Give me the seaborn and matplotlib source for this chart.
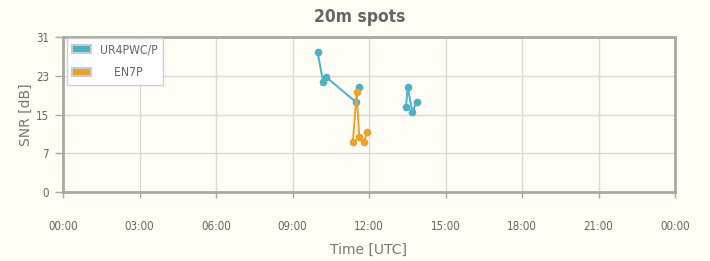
import numpy as np
import pandas as pd
import matplotlib
matplotlib.use("Agg")
import matplotlib.pyplot as plt
import seaborn as sns
from matplotlib.patches import Patch
from matplotlib import font_manager

# ---- data ----
calls = ["UR4PWC/P", "EN7P"]
ur_times = ["09:59", "10:12", "10:19", "11:29", "11:37", "13:27", "13:31", "13:42", "13:52"]
ur_snr = [28, 22, 23, 18, 21, 17, 21, 16, 18]
ur_seg = [0, 0, 0, 0, 0, 1, 1, 1, 1]
en_times = ["11:22", "11:31", "11:37", "11:48", "11:56"]
en_snr = [10, 20, 11, 10, 12]
en_seg = [2, 2, 2, 2, 2]
x_tick_labels = ["00:00", "03:00", "06:00", "09:00", "12:00", "15:00", "18:00", "21:00", "00:00"]
y_tick_labels = ["0", "7", "15", "23", "31"]
colors = {"UR4PWC/P": "#4bb2c5", "EN7P": "#EAA228"}


def to_hours(t):
    h, m = t.split(":")
    return int(h) + int(m) / 60.0


df = pd.DataFrame({
    "hour": [to_hours(t) for t in ur_times + en_times],
    "snr": ur_snr + en_snr,
    "call": [calls[0]] * len(ur_times) + [calls[1]] * len(en_times),
    "seg": ur_seg + en_seg,
})

sns.set_theme(style="white")
avail = {f.name for f in font_manager.fontManager.ttflist}
narrow = "Liberation Sans Narrow" if "Liberation Sans Narrow" in avail else "DejaVu Sans"
plt.rcParams["font.family"] = [narrow, "DejaVu Sans"]
plt.rcParams["font.stretch"] = "condensed"

bg = "#fffdf4"
fig = plt.figure(figsize=(7.10, 2.61), dpi=100, facecolor=bg)
ax = fig.add_axes([63 / 710, 1 - 192 / 261, (675 - 63) / 710, (192 - 37) / 261])
ax.set_facecolor("#fffdf6")

sns.lineplot(data=df, x="hour", y="snr", hue="call", units="seg", estimator=None,
             sort=False, marker="o", markersize=5.5, markeredgewidth=0, linewidth=1.4,
             palette=colors, legend=False, ax=ax)

ax.set_xlim(0, 24)
ax.set_ylim(0, 31)
ax.set_xticks(np.arange(0, 25, 3))
ax.set_xticklabels(x_tick_labels)
ax.set_yticks(np.linspace(0, 31, 5))
ax.set_yticklabels(y_tick_labels)
ax.grid(True, color="#d8d8d4", linewidth=1)
ax.set_axisbelow(True)
for s in ax.spines.values():
    s.set_color("#a8a8a4")
    s.set_linewidth(2)

ax.tick_params(axis="x", which="both", bottom=True, length=4, width=1, color="#a8a8a4",
               pad=16, labelsize=8.3, labelcolor="#666666")
ax.tick_params(axis="y", which="both", left=True, length=6, width=1, color="#a8a8a4",
               pad=4, labelsize=8.3, labelcolor="#666666")

ax.set_xlabel("Time [UTC]", fontsize=10, color="#777777", labelpad=7,
              family=["DejaVu Sans"], stretch="normal")
ax.set_ylabel("SNR [dB]", fontsize=10, color="#777777", labelpad=2,
              family=["DejaVu Sans"], stretch="normal")

fig.text(0.506, 1 - 17 / 261, "20m spots", ha="center", va="center", fontsize=12.5,
         fontweight="bold", color="#666666")

handles = [Patch(facecolor=colors[c], edgecolor="#cccccc", linewidth=1.5) for c in calls]
leg = ax.legend(handles, ["UR4PWC/P", "    EN7P"], loc="upper left",
                bbox_to_anchor=(0.006, 0.993), frameon=True, fontsize=8.7,
                handlelength=1.6, handleheight=0.65, handletextpad=0.7,
                labelspacing=0.8, borderpad=0.45, borderaxespad=0.0, fancybox=False)
leg.get_frame().set_facecolor("#ffffff")
leg.get_frame().set_edgecolor("#cccccc")
leg.get_frame().set_alpha(0.9)
for t in leg.get_texts():
    t.set_color("#666666")

fig.savefig("out.png", dpi=100, facecolor=bg)
